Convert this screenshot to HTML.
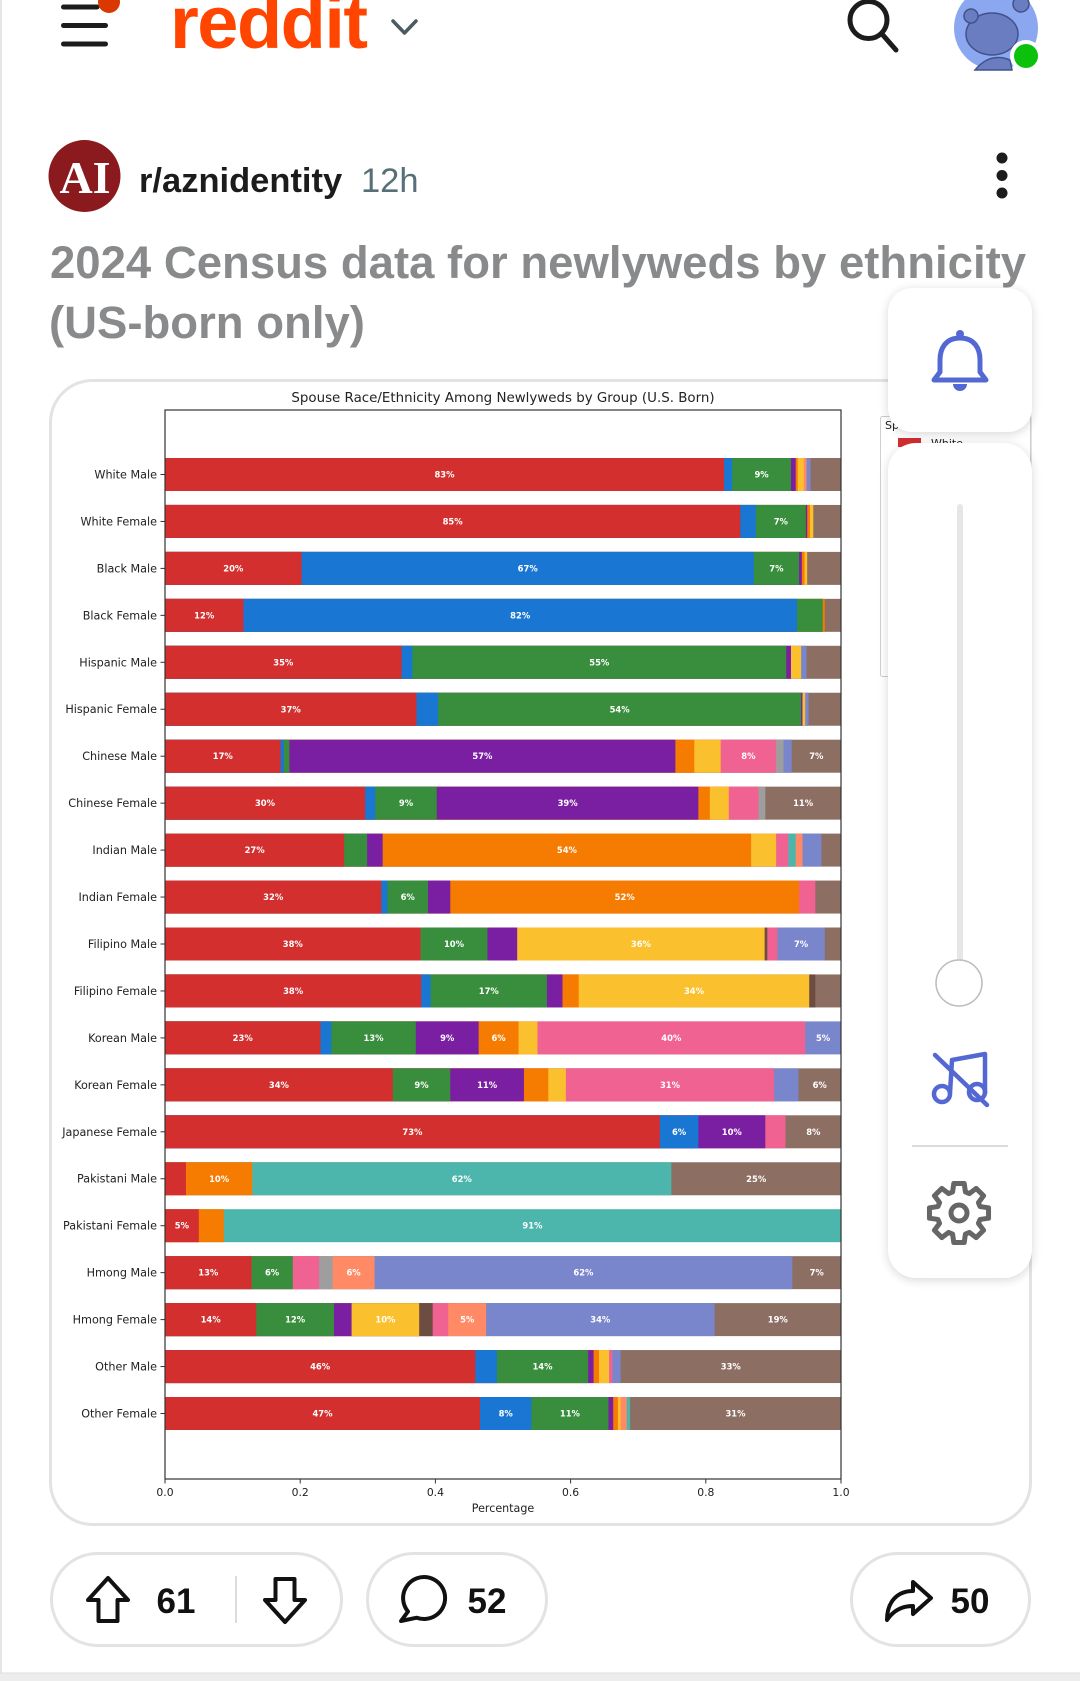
<!DOCTYPE html>
<html><head><meta charset="utf-8">
<style>
html,body{margin:0;padding:0;background:#fff;}
body{width:1080px;height:1681px;position:relative;overflow:hidden;}
svg{position:absolute;left:0;top:0;}
.r{fill:#d32f2f}.b{fill:#1976d2}.g{fill:#388e3c}.p{fill:#7b1fa2}.o{fill:#f57c00}.y{fill:#fbc02d}
.k{fill:#f06292}.gy{fill:#9e9e9e}.l{fill:#7986cb}.t{fill:#4db6ac}.s{fill:#ff8a65}.br{fill:#8d6e63}.db{fill:#6d4c41}
.yl{font-family:"DejaVu Sans",sans-serif;font-size:11.2px;fill:#222;text-anchor:end;}
.bl{font-family:"DejaVu Sans",sans-serif;font-size:8.4px;font-weight:bold;fill:#fff;text-anchor:middle;}
.xt{font-family:"DejaVu Sans",sans-serif;font-size:10.8px;fill:#222;text-anchor:middle;}
.panel{position:absolute;background:#fff;box-shadow:0 2px 10px rgba(0,0,0,0.16);}
</style></head>
<body>
<svg width="1080" height="1681" viewBox="0 0 1080 1681">
  <rect x="0" y="0" width="2" height="1681" fill="#e6e6e6"/>
  <g stroke="#1c1c1c" stroke-width="5" stroke-linecap="round">
    <line x1="63.5" y1="7" x2="97" y2="7"/>
    <line x1="63.5" y1="25.5" x2="105.5" y2="25.5"/>
    <line x1="63.5" y1="44" x2="105.5" y2="44"/>
  </g>
  <circle cx="109" cy="2" r="11" fill="#d93900"/>
  <text x="170" y="48" font-family="Liberation Sans, sans-serif" font-weight="bold" font-size="74" fill="#ff4500" letter-spacing="-1.5">reddit</text>
  <polyline points="393,21 404.5,33 416,21" fill="none" stroke="#4b5a63" stroke-width="3.5" stroke-linecap="round" stroke-linejoin="round"/>
  <circle cx="868.5" cy="20" r="18.5" fill="none" stroke="#1c1c1c" stroke-width="5"/>
  <line x1="882" y1="34" x2="896" y2="50" stroke="#1c1c1c" stroke-width="5" stroke-linecap="round"/>
  <circle cx="996" cy="28" r="42" fill="#8aa7ef"/>
  <ellipse cx="992" cy="34" rx="26" ry="21" fill="#6a7dc0" stroke="#42528c" stroke-width="1.5"/>
  <circle cx="971" cy="16" r="7" fill="#6a7dc0" stroke="#42528c" stroke-width="1.5"/>
  <circle cx="1021" cy="4" r="8" fill="#6a7dc0" stroke="#42528c" stroke-width="1.5"/>
  <path d="M975 70 Q990 52 1010 60 L1012 70 Z" fill="#6a7dc0" stroke="#42528c" stroke-width="1.5"/>
  <circle cx="1026" cy="56" r="16" fill="#fff"/>
  <circle cx="1026" cy="56" r="12" fill="#0cc10c"/>

  <circle cx="84.5" cy="176" r="36" fill="#8b1a1e"/>
  <text x="85" y="193" text-anchor="middle" font-family="Liberation Serif, serif" font-weight="bold" font-size="46" fill="#fff">AI</text>
  <text x="139" y="192" font-family="Liberation Sans, sans-serif" font-weight="bold" font-size="34.5" fill="#1c1c1c">r/aznidentity</text>
  <text x="361" y="192" font-family="Liberation Sans, sans-serif" font-size="34.5" fill="#576f76">12h</text>
  <circle cx="1002" cy="158" r="5.5" fill="#1c1c1c"/>
  <circle cx="1002" cy="175.5" r="5.5" fill="#1c1c1c"/>
  <circle cx="1002" cy="193" r="5.5" fill="#1c1c1c"/>

  <text x="50" y="278" font-family="Liberation Sans, sans-serif" font-weight="bold" font-size="45.5" fill="#888a8c">2024 Census data for newlyweds by ethnicity</text>
  <text x="49" y="338" font-family="Liberation Sans, sans-serif" font-weight="bold" font-size="45.5" fill="#888a8c">(US-born only)</text>

  <rect x="50.5" y="380.5" width="980" height="1144" rx="42" fill="#fff" stroke="#e3e3e3" stroke-width="3"/>

  <text x="503" y="402" text-anchor="middle" font-family="DejaVu Sans, sans-serif" font-size="13.4" fill="#222">Spouse Race/Ethnicity Among Newlyweds by Group (U.S. Born)</text>

  <rect x="880.5" y="416.5" width="150" height="260" rx="2" fill="#fff" stroke="#cfcfcf" stroke-width="1"/>
  <text x="885" y="429" font-family="DejaVu Sans, sans-serif" font-size="11" fill="#222">Spouse</text>
  <rect x="898" y="438" width="23" height="9" class="r"/>
  <text x="931" y="447" font-family="DejaVu Sans, sans-serif" font-size="11" fill="#222">White</text>

  <g transform="translate(165,0) scale(6.76,1)">
    <g transform="translate(0,458)"><rect class="br" width="100" height="33"/><rect class="l" width="95.5" height="33"/><rect class="s" width="94.9" height="33"/><rect class="y" width="94.5" height="33"/><rect class="o" width="93.6" height="33"/><rect class="p" width="93.3" height="33"/><rect class="g" width="92.6" height="33"/><rect class="b" width="83.9" height="33"/><rect class="r" width="82.7" height="33"/></g>
    <g transform="translate(0,504.95)"><rect class="br" width="100" height="33"/><rect class="y" width="95.9" height="33"/><rect class="o" width="95.4" height="33"/><rect class="p" width="95.0" height="33"/><rect class="g" width="94.8" height="33"/><rect class="b" width="87.4" height="33"/><rect class="r" width="85.1" height="33"/></g>
    <g transform="translate(0,551.9)"><rect class="br" width="100" height="33"/><rect class="y" width="95.0" height="33"/><rect class="o" width="94.6" height="33"/><rect class="p" width="94.2" height="33"/><rect class="g" width="93.8" height="33"/><rect class="b" width="87.1" height="33"/><rect class="r" width="20.2" height="33"/></g>
    <g transform="translate(0,598.85)"><rect class="br" width="100" height="33"/><rect class="o" width="97.6" height="33"/><rect class="g" width="97.3" height="33"/><rect class="b" width="93.5" height="33"/><rect class="r" width="11.6" height="33"/></g>
    <g transform="translate(0,645.8)"><rect class="br" width="100" height="33"/><rect class="l" width="94.9" height="33"/><rect class="y" width="94.1" height="33"/><rect class="p" width="92.6" height="33"/><rect class="g" width="91.9" height="33"/><rect class="b" width="36.6" height="33"/><rect class="r" width="35.0" height="33"/></g>
    <g transform="translate(0,692.75)"><rect class="br" width="100" height="33"/><rect class="l" width="95.2" height="33"/><rect class="y" width="94.7" height="33"/><rect class="p" width="94.3" height="33"/><rect class="g" width="94.1" height="33"/><rect class="b" width="40.4" height="33"/><rect class="r" width="37.2" height="33"/></g>
    <g transform="translate(0,739.7)"><rect class="br" width="100" height="33"/><rect class="l" width="92.7" height="33"/><rect class="gy" width="91.5" height="33"/><rect class="k" width="90.4" height="33"/><rect class="y" width="82.2" height="33"/><rect class="o" width="78.3" height="33"/><rect class="p" width="75.5" height="33"/><rect class="g" width="18.4" height="33"/><rect class="b" width="17.6" height="33"/><rect class="r" width="17.1" height="33"/></g>
    <g transform="translate(0,786.65)"><rect class="br" width="100" height="33"/><rect class="gy" width="88.8" height="33"/><rect class="k" width="87.8" height="33"/><rect class="y" width="83.4" height="33"/><rect class="o" width="80.6" height="33"/><rect class="p" width="78.9" height="33"/><rect class="g" width="40.2" height="33"/><rect class="b" width="31.1" height="33"/><rect class="r" width="29.6" height="33"/></g>
    <g transform="translate(0,833.6)"><rect class="br" width="100" height="33"/><rect class="l" width="97.1" height="33"/><rect class="s" width="94.3" height="33"/><rect class="t" width="93.3" height="33"/><rect class="k" width="92.2" height="33"/><rect class="y" width="90.4" height="33"/><rect class="o" width="86.7" height="33"/><rect class="p" width="32.2" height="33"/><rect class="g" width="29.9" height="33"/><rect class="r" width="26.5" height="33"/></g>
    <g transform="translate(0,880.55)"><rect class="br" width="100" height="33"/><rect class="k" width="96.2" height="33"/><rect class="o" width="93.8" height="33"/><rect class="p" width="42.2" height="33"/><rect class="g" width="38.9" height="33"/><rect class="b" width="32.9" height="33"/><rect class="r" width="32.0" height="33"/></g>
    <g transform="translate(0,927.5)"><rect class="br" width="100" height="33"/><rect class="l" width="97.6" height="33"/><rect class="k" width="90.6" height="33"/><rect class="db" width="89.1" height="33"/><rect class="y" width="88.7" height="33"/><rect class="p" width="52.1" height="33"/><rect class="g" width="47.7" height="33"/><rect class="r" width="37.8" height="33"/></g>
    <g transform="translate(0,974.45)"><rect class="br" width="100" height="33"/><rect class="db" width="96.2" height="33"/><rect class="y" width="95.3" height="33"/><rect class="o" width="61.2" height="33"/><rect class="p" width="58.8" height="33"/><rect class="g" width="56.5" height="33"/><rect class="b" width="39.3" height="33"/><rect class="r" width="37.9" height="33"/></g>
    <g transform="translate(0,1021.4)"><rect class="l" width="100" height="33"/><rect class="k" width="94.7" height="33"/><rect class="y" width="55.1" height="33"/><rect class="o" width="52.3" height="33"/><rect class="p" width="46.4" height="33"/><rect class="g" width="37.1" height="33"/><rect class="b" width="24.6" height="33"/><rect class="r" width="23.0" height="33"/></g>
    <g transform="translate(0,1068.35)"><rect class="br" width="100" height="33"/><rect class="l" width="93.7" height="33"/><rect class="k" width="90.1" height="33"/><rect class="y" width="59.3" height="33"/><rect class="o" width="56.7" height="33"/><rect class="p" width="53.1" height="33"/><rect class="g" width="42.2" height="33"/><rect class="r" width="33.7" height="33"/></g>
    <g transform="translate(0,1115.3)"><rect class="br" width="100" height="33"/><rect class="k" width="91.8" height="33"/><rect class="p" width="88.8" height="33"/><rect class="b" width="78.9" height="33"/><rect class="r" width="73.2" height="33"/></g>
    <g transform="translate(0,1162.25)"><rect class="br" width="100" height="33"/><rect class="t" width="74.9" height="33"/><rect class="o" width="12.9" height="33"/><rect class="r" width="3.1" height="33"/></g>
    <g transform="translate(0,1209.2)"><rect class="t" width="100" height="33"/><rect class="o" width="8.7" height="33"/><rect class="r" width="5.0" height="33"/></g>
    <g transform="translate(0,1256.15)"><rect class="br" width="100" height="33"/><rect class="l" width="92.8" height="33"/><rect class="s" width="31.0" height="33"/><rect class="gy" width="24.8" height="33"/><rect class="k" width="22.8" height="33"/><rect class="g" width="18.9" height="33"/><rect class="r" width="12.8" height="33"/></g>
    <g transform="translate(0,1303.1)"><rect class="br" width="100" height="33"/><rect class="l" width="81.3" height="33"/><rect class="s" width="47.5" height="33"/><rect class="k" width="41.9" height="33"/><rect class="db" width="39.6" height="33"/><rect class="y" width="37.6" height="33"/><rect class="p" width="27.6" height="33"/><rect class="g" width="25.0" height="33"/><rect class="r" width="13.5" height="33"/></g>
    <g transform="translate(0,1350.05)"><rect class="br" width="100" height="33"/><rect class="l" width="67.4" height="33"/><rect class="k" width="66.2" height="33"/><rect class="y" width="65.7" height="33"/><rect class="o" width="64.2" height="33"/><rect class="p" width="63.4" height="33"/><rect class="g" width="62.6" height="33"/><rect class="b" width="49.1" height="33"/><rect class="r" width="45.9" height="33"/></g>
    <g transform="translate(0,1397)"><rect class="br" width="100" height="33"/><rect class="t" width="68.8" height="33"/><rect class="s" width="68.3" height="33"/><rect class="y" width="67.4" height="33"/><rect class="o" width="67.0" height="33"/><rect class="p" width="66.3" height="33"/><rect class="g" width="65.6" height="33"/><rect class="b" width="54.2" height="33"/><rect class="r" width="46.6" height="33"/></g>
  </g>

  <g class="bl">
    <text x="444.5" y="477.5" class="bl">83%</text><text x="761.6" y="477.5" class="bl">9%</text>
    <text x="452.6" y="524.5" class="bl">85%</text><text x="780.8" y="524.5" class="bl">7%</text>
    <text x="233.3" y="571.4" class="bl">20%</text><text x="527.7" y="571.4" class="bl">67%</text><text x="776.4" y="571.4" class="bl">7%</text>
    <text x="204.2" y="618.4" class="bl">12%</text><text x="520.2" y="618.4" class="bl">82%</text>
    <text x="283.3" y="665.3" class="bl">35%</text><text x="599.3" y="665.3" class="bl">55%</text>
    <text x="290.7" y="712.3" class="bl">37%</text><text x="619.6" y="712.3" class="bl">54%</text>
    <text x="222.8" y="759.2" class="bl">17%</text><text x="482.4" y="759.2" class="bl">57%</text><text x="748.4" y="759.2" class="bl">8%</text><text x="816.3" y="759.2" class="bl">7%</text>
    <text x="265.0" y="806.2" class="bl">30%</text><text x="406.0" y="806.2" class="bl">9%</text><text x="567.6" y="806.2" class="bl">39%</text><text x="803.1" y="806.2" class="bl">11%</text>
    <text x="254.6" y="853.1" class="bl">27%</text><text x="566.9" y="853.1" class="bl">54%</text>
    <text x="273.2" y="900.1" class="bl">32%</text><text x="407.7" y="900.1" class="bl">6%</text><text x="624.7" y="900.1" class="bl">52%</text>
    <text x="292.8" y="947" class="bl">38%</text><text x="454.0" y="947" class="bl">10%</text><text x="640.9" y="947" class="bl">36%</text><text x="801.1" y="947" class="bl">7%</text>
    <text x="293.1" y="994" class="bl">38%</text><text x="488.8" y="994" class="bl">17%</text><text x="694.0" y="994" class="bl">34%</text>
    <text x="242.7" y="1040.9" class="bl">23%</text><text x="373.5" y="1040.9" class="bl">13%</text><text x="447.2" y="1040.9" class="bl">9%</text><text x="498.6" y="1040.9" class="bl">6%</text><text x="671.3" y="1040.9" class="bl">40%</text><text x="823.1" y="1040.9" class="bl">5%</text>
    <text x="278.9" y="1087.9" class="bl">34%</text><text x="421.5" y="1087.9" class="bl">9%</text><text x="487.1" y="1087.9" class="bl">11%</text><text x="670.0" y="1087.9" class="bl">31%</text><text x="819.7" y="1087.9" class="bl">6%</text>
    <text x="412.4" y="1134.8" class="bl">73%</text><text x="679.1" y="1134.8" class="bl">6%</text><text x="731.8" y="1134.8" class="bl">10%</text><text x="813.3" y="1134.8" class="bl">8%</text>
    <text x="219.1" y="1181.8" class="bl">10%</text><text x="461.8" y="1181.8" class="bl">62%</text><text x="756.2" y="1181.8" class="bl">25%</text>
    <text x="181.9" y="1228.7" class="bl">5%</text><text x="532.4" y="1228.7" class="bl">91%</text>
    <text x="208.3" y="1275.7" class="bl">13%</text><text x="272.1" y="1275.7" class="bl">6%</text><text x="353.6" y="1275.7" class="bl">6%</text><text x="583.4" y="1275.7" class="bl">62%</text><text x="816.7" y="1275.7" class="bl">7%</text>
    <text x="210.6" y="1322.6" class="bl">14%</text><text x="295.1" y="1322.6" class="bl">12%</text><text x="385.4" y="1322.6" class="bl">10%</text><text x="467.2" y="1322.6" class="bl">5%</text><text x="600.3" y="1322.6" class="bl">34%</text><text x="777.8" y="1322.6" class="bl">19%</text>
    <text x="320.1" y="1369.6" class="bl">46%</text><text x="542.5" y="1369.6" class="bl">14%</text><text x="730.8" y="1369.6" class="bl">33%</text>
    <text x="322.5" y="1416.5" class="bl">47%</text><text x="505.7" y="1416.5" class="bl">8%</text><text x="569.9" y="1416.5" class="bl">11%</text><text x="735.5" y="1416.5" class="bl">31%</text>
  </g>

  <rect x="165" y="410" width="676" height="1069" fill="none" stroke="#333" stroke-width="1.2"/>

  <g stroke="#333" stroke-width="1">
    <line x1="160.5" y1="474.5" x2="165" y2="474.5"/><line x1="160.5" y1="521.45" x2="165" y2="521.45"/><line x1="160.5" y1="568.4" x2="165" y2="568.4"/><line x1="160.5" y1="615.35" x2="165" y2="615.35"/><line x1="160.5" y1="662.3" x2="165" y2="662.3"/><line x1="160.5" y1="709.25" x2="165" y2="709.25"/><line x1="160.5" y1="756.2" x2="165" y2="756.2"/><line x1="160.5" y1="803.15" x2="165" y2="803.15"/><line x1="160.5" y1="850.1" x2="165" y2="850.1"/><line x1="160.5" y1="897.05" x2="165" y2="897.05"/><line x1="160.5" y1="944" x2="165" y2="944"/><line x1="160.5" y1="990.95" x2="165" y2="990.95"/><line x1="160.5" y1="1037.9" x2="165" y2="1037.9"/><line x1="160.5" y1="1084.85" x2="165" y2="1084.85"/><line x1="160.5" y1="1131.8" x2="165" y2="1131.8"/><line x1="160.5" y1="1178.75" x2="165" y2="1178.75"/><line x1="160.5" y1="1225.7" x2="165" y2="1225.7"/><line x1="160.5" y1="1272.65" x2="165" y2="1272.65"/><line x1="160.5" y1="1319.6" x2="165" y2="1319.6"/><line x1="160.5" y1="1366.55" x2="165" y2="1366.55"/><line x1="160.5" y1="1413.5" x2="165" y2="1413.5"/>
    <line x1="165" y1="1479" x2="165" y2="1483.5"/><line x1="300.2" y1="1479" x2="300.2" y2="1483.5"/><line x1="435.4" y1="1479" x2="435.4" y2="1483.5"/><line x1="570.6" y1="1479" x2="570.6" y2="1483.5"/><line x1="705.8" y1="1479" x2="705.8" y2="1483.5"/><line x1="841" y1="1479" x2="841" y2="1483.5"/>
  </g>

  <g>
    <text class="yl" x="157" y="478.5">White Male</text>
    <text class="yl" x="157" y="525.4">White Female</text>
    <text class="yl" x="157" y="572.4">Black Male</text>
    <text class="yl" x="157" y="619.3">Black Female</text>
    <text class="yl" x="157" y="666.3">Hispanic Male</text>
    <text class="yl" x="157" y="713.2">Hispanic Female</text>
    <text class="yl" x="157" y="760.2">Chinese Male</text>
    <text class="yl" x="157" y="807.1">Chinese Female</text>
    <text class="yl" x="157" y="854.1">Indian Male</text>
    <text class="yl" x="157" y="901">Indian Female</text>
    <text class="yl" x="157" y="948">Filipino Male</text>
    <text class="yl" x="157" y="994.9">Filipino Female</text>
    <text class="yl" x="157" y="1041.9">Korean Male</text>
    <text class="yl" x="157" y="1088.8">Korean Female</text>
    <text class="yl" x="157" y="1135.8">Japanese Female</text>
    <text class="yl" x="157" y="1182.7">Pakistani Male</text>
    <text class="yl" x="157" y="1229.7">Pakistani Female</text>
    <text class="yl" x="157" y="1276.6">Hmong Male</text>
    <text class="yl" x="157" y="1323.6">Hmong Female</text>
    <text class="yl" x="157" y="1370.5">Other Male</text>
    <text class="yl" x="157" y="1417.5">Other Female</text>
  </g>

  <text class="xt" x="165" y="1496">0.0</text>
  <text class="xt" x="300.2" y="1496">0.2</text>
  <text class="xt" x="435.4" y="1496">0.4</text>
  <text class="xt" x="570.6" y="1496">0.6</text>
  <text class="xt" x="705.8" y="1496">0.8</text>
  <text class="xt" x="841" y="1496">1.0</text>
  <text class="xt" x="503" y="1512" style="font-size:11.1px">Percentage</text>

  <g fill="#fff" stroke="#e3e3e3" stroke-width="3">
    <rect x="51.5" y="1553.5" width="290" height="92" rx="46"/>
    <rect x="367.5" y="1553.5" width="179" height="92" rx="46"/>
    <rect x="851.5" y="1553.5" width="178" height="92" rx="46"/>
  </g>
  <g fill="none" stroke="#111" stroke-width="4" stroke-linejoin="round" stroke-linecap="round">
    <path d="M108 1578 L128 1600 L117.5 1600 L117.5 1621 L98.5 1621 L98.5 1600 L88 1600 Z"/>
    <path d="M285 1622 L305 1600 L294.5 1600 L294.5 1579 L275.5 1579 L275.5 1600 L265 1600 Z"/>
    <path d="M408 1611.5 A21 21 0 1 1 416.8 1617.7 L401 1621 Z"/>
    <path d="M887 1620 C887 1601 898 1591 913 1591 L913 1582 L931 1598 L913 1614 L913 1606 C901 1606 893 1611 887 1620 Z"/>
  </g>
  <line x1="236" y1="1576" x2="236" y2="1623" stroke="#dcdcdc" stroke-width="2"/>
  <g font-family="Liberation Sans, sans-serif" font-weight="bold" font-size="35" fill="#111" text-anchor="middle">
    <text x="176" y="1613">61</text>
    <text x="487" y="1613">52</text>
    <text x="970" y="1613">50</text>
  </g>
  <rect x="0" y="1673" width="1080" height="8" fill="#ededed"/>
  <line x1="0" y1="1673" x2="1080" y2="1673" stroke="#dedede" stroke-width="1"/>
</svg>

<div class="panel" style="left:888px;top:288px;width:144px;height:144px;border-radius:24px;">
  <svg width="144" height="144" viewBox="0 0 144 144">
    <circle cx="72" cy="46" r="4" fill="#5468d4"/>
    <path d="M72 50 C58 50 52 60 52 72 L52 84 L46 92 L98 92 L92 84 L92 72 C92 60 86 50 72 50 Z" fill="none" stroke="#5468d4" stroke-width="5" stroke-linejoin="round"/>
    <path d="M65 96 A7 7 0 0 0 79 96 Z" fill="#5468d4"/>
  </svg>
</div>
<div class="panel" style="left:888px;top:443px;width:144px;height:835px;border-radius:28px;">
  <svg width="144" height="835" viewBox="0 0 144 835">
    <rect x="69" y="61" width="6" height="470" rx="3" fill="#e6e6e6"/>
    <circle cx="71" cy="540" r="23" fill="#fff" stroke="#bdbdbd" stroke-width="1.5"/>
    <g fill="none" stroke="#5468d4" stroke-width="4.5" stroke-linecap="round" stroke-linejoin="round">
      <circle cx="54" cy="651" r="8"/>
      <polyline points="62,650 64,617 97,611 97,650"/>
      <circle cx="89" cy="649" r="8"/>
      <line x1="47" y1="612" x2="99" y2="662"/>
    </g>
    <line x1="24" y1="703" x2="120" y2="703" stroke="#cfcfcf" stroke-width="1.5"/>
    <g transform="translate(71,770)" fill="none" stroke="#666" stroke-width="5" stroke-linejoin="round">
      <polygon points="-6.43,-21.04 -5.21,-29.54 5.21,-29.54 6.43,-21.04 10.33,-19.42 17.21,-24.57 24.57,-17.21 19.42,-10.33 21.04,-6.43 29.54,-5.21 29.54,5.21 21.04,6.43 19.42,10.33 24.57,17.21 17.21,24.57 10.33,19.42 6.43,21.04 5.21,29.54 -5.21,29.54 -6.43,21.04 -10.33,19.42 -17.21,24.57 -24.57,17.21 -19.42,10.33 -21.04,6.43 -29.54,5.21 -29.54,-5.21 -21.04,-6.43 -19.42,-10.33 -24.57,-17.21 -17.21,-24.57 -10.33,-19.42"/>
      <circle cx="0" cy="0" r="8"/>
    </g>
  </svg>
</div>
</body></html>
